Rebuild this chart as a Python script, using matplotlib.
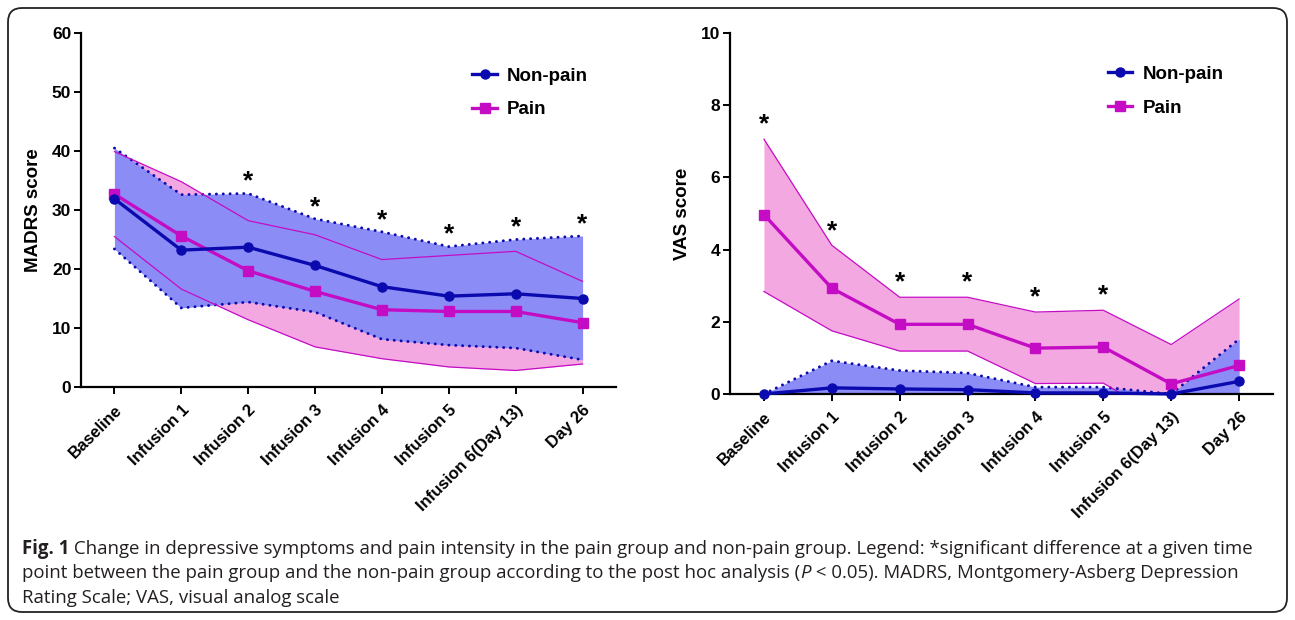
import matplotlib
matplotlib.use("Agg")
import matplotlib.pyplot as plt
from matplotlib.patches import FancyBboxPatch
from matplotlib.transforms import IdentityTransform
from matplotlib.lines import Line2D

# ---------------- data ----------------
categories = ["Baseline", "Infusion 1", "Infusion 2", "Infusion 3",
              "Infusion 4", "Infusion 5", "Infusion 6(Day 13)", "Day 26"]

madrs_nonpain_mean = [31.9, 23.2, 23.7, 20.6, 17.0, 15.4, 15.8, 15.0]
madrs_nonpain_upper = [40.5, 32.6, 32.8, 28.5, 26.3, 23.8, 25.0, 25.6]
madrs_nonpain_lower = [23.4, 13.4, 14.4, 12.7, 8.1, 7.1, 6.6, 4.6]
madrs_pain_mean = [32.7, 25.6, 19.7, 16.2, 13.1, 12.8, 12.8, 10.9]
madrs_pain_upper = [39.9, 34.8, 28.2, 25.8, 21.6, 22.3, 23.0, 17.9]
madrs_pain_lower = [25.5, 16.6, 11.4, 6.8, 4.8, 3.4, 2.8, 3.9]
madrs_sig = [False, False, True, True, True, True, True, True]

vas_nonpain_mean = [0.0, 0.17, 0.14, 0.12, 0.03, 0.03, 0.0, 0.35]
vas_nonpain_upper = [0.0, 0.92, 0.65, 0.58, 0.19, 0.19, 0.0, 1.52]
vas_nonpain_lower = [0.0, -0.58, -0.37, -0.34, -0.13, -0.13, 0.0, -0.8]
vas_pain_mean = [4.97, 2.93, 1.93, 1.93, 1.27, 1.30, 0.28, 0.79]
vas_pain_upper = [7.06, 4.12, 2.68, 2.68, 2.27, 2.32, 1.37, 2.63]
vas_pain_lower = [2.84, 1.75, 1.19, 1.19, 0.29, 0.30, -0.8, -1.0]
vas_sig = [True, True, True, True, True, True, False, False]

series_labels = ["Non-pain", "Pain"]

caption_line1 = ("Change in depressive symptoms and pain intensity in the pain group and "
                 "non-pain group. Legend: *significant difference at a given time")
caption_line2a = ("point between the pain group and the non-pain group according to the "
                  "post hoc analysis (")
caption_line2b = " < 0.05). MADRS, Montgomery-Asberg Depression"
caption_line3 = "Rating Scale; VAS, visual analog scale"

# ---------------- style ----------------
BLUE = "#0a0aae"
BLUE_FILL = "#8b8cf6"
MAG = "#c40cc4"
PINK_FILL = "#f4a8e2"
FONT = "Liberation Sans"

W, H = 1295, 620
fig = plt.figure(figsize=(W / 100, H / 100), dpi=100)
fig.patch.set_facecolor("white")


def px_axes(x0, y0, x1, y1):
    return fig.add_axes([x0 / W, 1 - y1 / H, (x1 - x0) / W, (y1 - y0) / H])


def draw_panel(ax, np_mean, np_up, np_lo, p_mean, p_up, p_lo, sig, ymax, ystep,
               star_off, ylabel, leg_anchor):
    x = list(range(len(categories)))
    ax.fill_between(x, p_lo, p_up, color=PINK_FILL, lw=0, zorder=1)
    ax.fill_between(x, np_lo, np_up, color=BLUE_FILL, lw=0, zorder=2)
    dot = dict(color=BLUE, lw=2.1, linestyle=(0, (0.05, 2.3)),
               dash_capstyle="round", zorder=3)
    ax.plot(x, np_up, **dot)
    ax.plot(x, np_lo, **dot)
    ax.plot(x, p_up, color=MAG, lw=0.9, zorder=3)
    ax.plot(x, p_lo, color=MAG, lw=0.9, zorder=3)
    ax.plot(x, p_mean, color=MAG, lw=2.4, marker="s", ms=6.5, zorder=5,
            clip_on=False, label=series_labels[1])
    ax.plot(x, np_mean, color=BLUE, lw=2.4, marker="o", ms=6.5, zorder=6,
            clip_on=False, label=series_labels[0])
    for i, s in enumerate(sig):
        if s:
            top = max(np_up[i], p_up[i])
            ax.text(i, top + star_off, "*", ha="center", va="center",
                    fontsize=19, fontweight="bold", family=FONT, zorder=7)

    ax.set_xlim(-0.5, len(categories) - 0.5)
    ax.set_ylim(0, ymax)
    ax.set_yticks(range(0, ymax + 1, ystep))
    ax.set_xticks(x)
    ax.set_xticklabels(categories, rotation=45, ha="right",
                       rotation_mode="anchor", fontsize=12,
                       fontweight="bold", family=FONT)
    for lab in ax.get_yticklabels():
        lab.set_fontsize(12.5)
        lab.set_fontweight("bold")
        lab.set_family(FONT)
    ax.set_ylabel(ylabel, fontsize=13.5, fontweight="bold", family=FONT,
                  labelpad=7)
    for side in ("top", "right"):
        ax.spines[side].set_visible(False)
    for side in ("left", "bottom"):
        ax.spines[side].set_linewidth(1.6)
    ax.tick_params(axis="both", direction="out", length=5, width=1.4,
                   pad=2)
    ax.tick_params(axis="x", pad=6)

    handles = [Line2D([], [], color=BLUE, lw=2.4, marker="o", ms=6.5),
               Line2D([], [], color=MAG, lw=2.4, marker="s", ms=6.5)]
    ax.legend(handles, series_labels, loc="upper left",
              bbox_to_anchor=leg_anchor, frameon=False, handlelength=1.3,
              handletextpad=0.55, labelspacing=0.88,
              prop=dict(family=FONT, weight="bold", size=13.5))


ax1 = px_axes(81, 33, 616, 387)
draw_panel(ax1, madrs_nonpain_mean, madrs_nonpain_upper, madrs_nonpain_lower,
           madrs_pain_mean, madrs_pain_upper, madrs_pain_lower, madrs_sig,
           60, 10, 2.0, "MADRS score", (0.70, 0.95))

ax2 = px_axes(730, 33, 1273, 394)
draw_panel(ax2, vas_nonpain_mean, vas_nonpain_upper, vas_nonpain_lower,
           vas_pain_mean, vas_pain_upper, vas_pain_lower, vas_sig,
           10, 2, 0.4, "VAS score", (0.665, 0.956))

# ---------------- border ----------------
border = FancyBboxPatch((8, 8), W - 16, H - 16,
                        boxstyle="round,pad=0,rounding_size=14",
                        transform=IdentityTransform(), fill=False,
                        edgecolor="#222222", lw=1.3)
fig.patches.append(border)

# ---------------- caption ----------------
CAP = "Open Sans"
CSIZE = 13.4
CCOL = "#231f20"
fig.canvas.draw()
renderer = fig.canvas.get_renderer()


def seq_text(x_px, y_px, parts):
    x = x_px
    for txt, kw in parts:
        t = fig.text(x / W, 1 - y_px / H, txt, ha="left", va="baseline",
                     fontsize=CSIZE, family=CAP, color=CCOL, **kw)
        bb = t.get_window_extent(renderer=renderer)
        x = bb.x1


seq_text(22, 554, [("Fig. 1", dict(fontweight="bold")),
                   (" " + caption_line1, {})])
seq_text(22, 578, [(caption_line2a, {}), ("P", dict(style="italic")),
                   (caption_line2b, {})])
seq_text(22, 603, [(caption_line3, {})])

fig.savefig("out.png", dpi=100, facecolor="white")
